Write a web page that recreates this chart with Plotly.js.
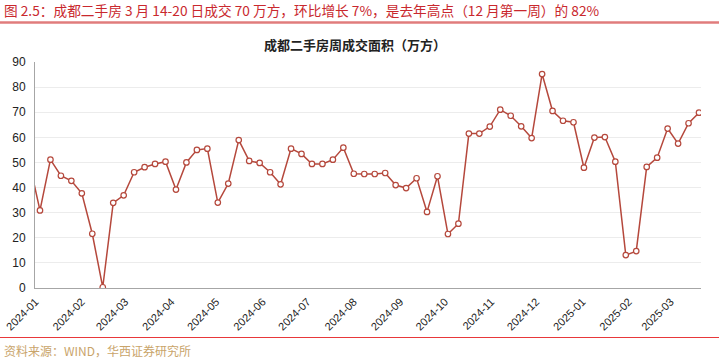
<!DOCTYPE html>
<html>
<head>
<meta charset="utf-8">
<script src="https://cdn.plot.ly/plotly-3.0.1.min.js"></script>
<style>
  html, body { margin: 0; padding: 0; background: #ffffff; }
  #chart { width: 719px; height: 358px; }
</style>
</head>
<body>
<div id="chart"></div>
<script>
// Week-ending dates (Thursdays); first point lies just before the visible axis range
const weekDates = [
  '2023-12-28',
  '2024-01-04','2024-01-11','2024-01-18','2024-01-25',
  '2024-02-01','2024-02-08','2024-02-15','2024-02-22','2024-02-29',
  '2024-03-07','2024-03-14','2024-03-21','2024-03-28',
  '2024-04-04','2024-04-11','2024-04-18','2024-04-25',
  '2024-05-02','2024-05-09','2024-05-16','2024-05-23','2024-05-30',
  '2024-06-06','2024-06-13','2024-06-20','2024-06-27',
  '2024-07-04','2024-07-11','2024-07-18','2024-07-25',
  '2024-08-01','2024-08-08','2024-08-15','2024-08-22','2024-08-29',
  '2024-09-05','2024-09-12','2024-09-19','2024-09-26',
  '2024-10-03','2024-10-10','2024-10-17','2024-10-24','2024-10-31',
  '2024-11-07','2024-11-14','2024-11-21','2024-11-28',
  '2024-12-05','2024-12-12','2024-12-19','2024-12-26',
  '2025-01-02','2025-01-09','2025-01-16','2025-01-23','2025-01-30',
  '2025-02-06','2025-02-13','2025-02-20','2025-02-27',
  '2025-03-06','2025-03-13','2025-03-20'
];

// Weekly transaction area (10k m²)
const weeklyArea = [
  49.7,
  30.9, 51.1, 44.7, 42.7,
  37.7, 21.6, 0.3, 33.9, 36.9,
  46.1, 48.1, 49.4, 50.3,
  39.2, 50.0, 55.0, 55.5,
  34.0, 41.6, 58.9, 50.6, 49.8,
  46.1, 41.3, 55.5, 53.4,
  49.4, 49.4, 51.1, 55.9,
  45.5, 45.4, 45.4, 45.8, 41.0,
  39.8, 43.7, 30.3, 44.5,
  21.5, 25.6, 61.5, 61.5, 64.3,
  71.0, 68.6, 64.4, 59.7,
  85.2, 70.5, 66.6, 66.0,
  47.9, 59.9, 60.1, 50.3, 13.1,
  14.7, 48.2, 51.9, 63.5,
  57.5, 65.6, 69.8
];

const monthTickDates = [
  '2024-01-01','2024-02-01','2024-03-01','2024-04-01','2024-05-01',
  '2024-06-01','2024-07-01','2024-08-01','2024-09-01','2024-10-01',
  '2024-11-01','2024-12-01','2025-01-01','2025-02-01','2025-03-01'
];
const monthTickLabels = [
  '2024-01','2024-02','2024-03','2024-04','2024-05',
  '2024-06','2024-07','2024-08','2024-09','2024-10',
  '2024-11','2024-12','2025-01','2025-02','2025-03'
];

const headerText = '图 2.5：成都二手房 3 月 14-20 日成交 70 万方，环比增长 7%，是去年高点（12 月第一周）的 82%';
const chartTitle = '成都二手房周成交面积（万方）';
const sourceText = '资料来源：WIND，华西证券研究所';

// layout geometry (pixels)
const W = 719, H = 358;
const mL = 35, mR = 18, mT = 62, mB = 70;
const pw = W - mL - mR, ph = H - mT - mB;
const px = x => (x - mL) / pw;
const py = y => (H - mB - y) / ph;

const lineColor = '#b5483c';

const trace = {
  type: 'scatter',
  mode: 'lines+markers',
  x: weekDates,
  y: weeklyArea,
  line: { color: lineColor, width: 1.5 },
  marker: { symbol: 'circle', size: 5.5, color: '#ffffff', line: { color: lineColor, width: 1.2 } },
  cliponaxis: true,
  hoverinfo: 'x+y'
};

const layout = {
  width: W, height: H,
  margin: { l: mL, r: mR, t: mT, b: mB, pad: 0 },
  paper_bgcolor: '#ffffff',
  plot_bgcolor: '#ffffff',
  showlegend: false,
  font: { family: 'Liberation Sans, Arial, "Noto Sans CJK SC", sans-serif', size: 11, color: '#333333' },
  xaxis: {
    type: 'date',
    range: ['2023-12-31 16:00', '2025-03-21 08:00'],
    tickmode: 'array',
    tickvals: monthTickDates,
    ticktext: monthTickLabels,
    tickangle: -45,
    ticks: '',
    ticklabelstandoff: 2,
    showgrid: false,
    zeroline: false,
    showline: true,
    linecolor: '#a6a6a6',
    linewidth: 1,
    tickfont: { family: 'Liberation Sans, Arial, sans-serif', size: 11, color: '#222222' },
    fixedrange: true
  },
  yaxis: {
    range: [0, 90],
    tickmode: 'linear',
    tick0: 0,
    dtick: 10,
    showgrid: true,
    gridcolor: '#ececec',
    gridwidth: 1,
    zeroline: false,
    showline: true,
    linecolor: '#a6a6a6',
    linewidth: 1,
    ticks: '',
    ticklabelstandoff: 6,
    tickfont: { family: 'Liberation Sans, Arial, sans-serif', size: 12, color: '#222222' },
    fixedrange: true
  },
  shapes: [
    { type: 'line', xref: 'paper', yref: 'paper', x0: px(0), x1: px(W), y0: py(22.5), y1: py(22.5),
      line: { color: '#e07c7c', width: 2.5 } },
    { type: 'line', xref: 'paper', yref: 'paper', x0: px(0), x1: px(W), y0: py(337.5), y1: py(337.5),
      line: { color: '#e8383a', width: 1 } }
  ],
  annotations: [
    { text: headerText, xref: 'paper', yref: 'paper', x: px(2), y: py(9.5), xanchor: 'left', yanchor: 'middle',
      showarrow: false, font: { family: '"Noto Sans CJK SC", "Liberation Sans", sans-serif', size: 13.7, color: '#c9282e' } },
    { text: '<b>' + chartTitle + '</b>', xref: 'paper', yref: 'paper', x: px(355), y: py(44), xanchor: 'center', yanchor: 'middle',
      showarrow: false, font: { family: '"Noto Sans CJK SC", sans-serif', size: 13, color: '#222222' } },
    { text: sourceText, xref: 'paper', yref: 'paper', x: px(2), y: py(350), xanchor: 'left', yanchor: 'middle',
      showarrow: false, font: { family: '"Noto Sans CJK SC", "Liberation Sans", sans-serif', size: 12, color: '#c9a46a' } }
  ]
};

Plotly.newPlot('chart', [trace], layout, { displayModeBar: false, staticPlot: true });
</script>
</body>
</html>
